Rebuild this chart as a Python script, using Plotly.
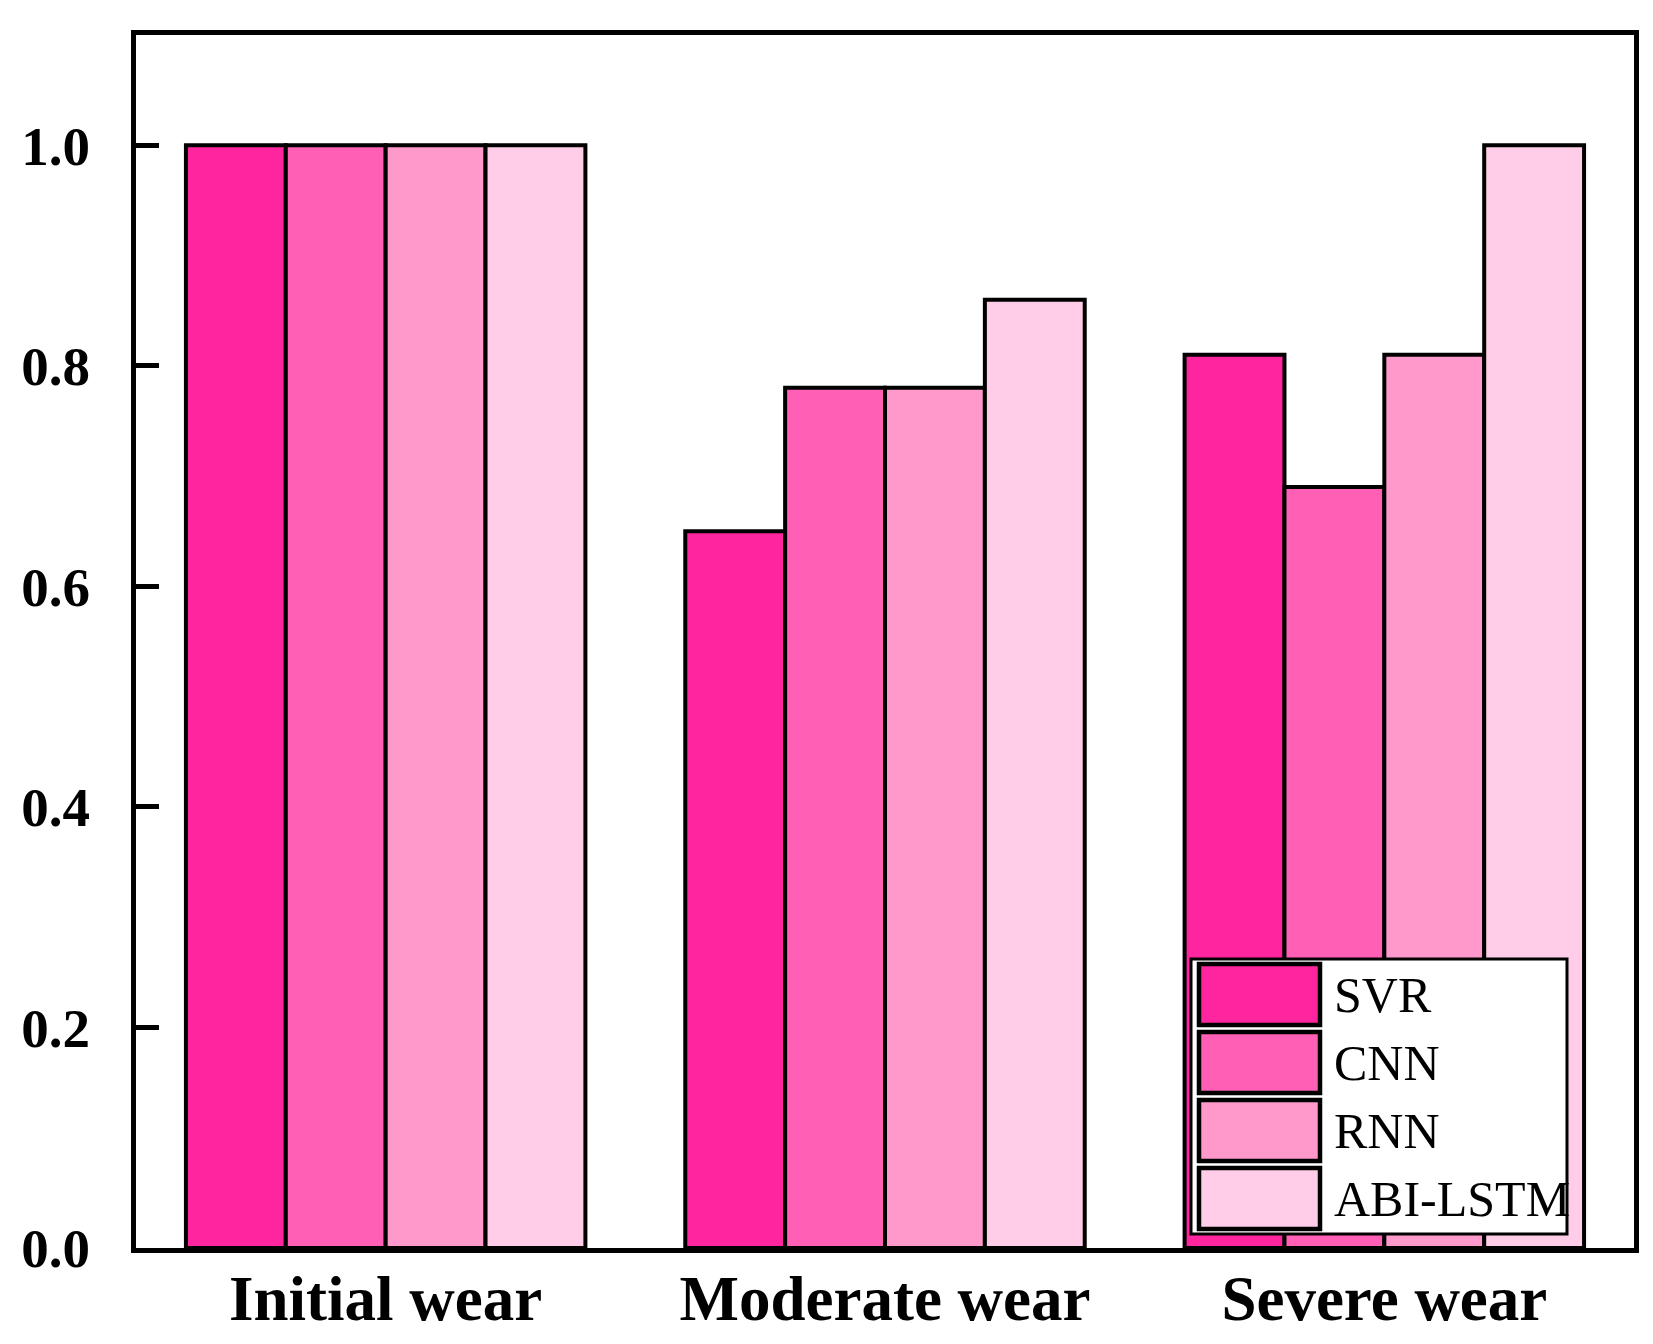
import plotly.graph_objects as go

categories = ["Initial wear", "Moderate wear", "Severe wear"]
series_names = ["SVR", "CNN", "RNN", "ABI-LSTM"]
svr = [1.0, 0.65, 0.81]
cnn = [1.0, 0.78, 0.69]
rnn = [1.0, 0.78, 0.81]
abi_lstm = [1.0, 0.86, 1.0]
series_values = [svr, cnn, rnn, abi_lstm]
colors = ["#FF259F", "#FF5FB4", "#FF99CC", "#FFCDE7"]
y_ticks = [0.0, 0.2, 0.4, 0.6, 0.8, 1.0]
y_tick_labels = ["0.0", "0.2", "0.4", "0.6", "0.8", "1.0"]

W, H = 1653, 1344
ML, MR, MT, MB = 128, 27, 27, 104
PW, PH = W - ML - MR, H - MT - MB
FONT = "Liberation Serif"

fig = go.Figure()
for name, vals, col in zip(series_names, series_values, colors):
    fig.add_trace(go.Bar(
        x=categories, y=vals, name=name,
        marker=dict(color=col, line=dict(color="black", width=4)),
        showlegend=False,
    ))

def px_x(p):
    return (p - ML) / PW

def px_y(p):
    return (H - MB - p) / PH

shapes = []
annotations = []
# legend box
shapes.append(dict(type="rect", xref="paper", yref="paper",
                   x0=px_x(1183), x1=px_x(1559), y0=px_y(1226), y1=px_y(951),
                   line=dict(color="black", width=3), fillcolor="white", layer="above"))
tops = [956, 1024, 1092, 1160]
for name, col, t in zip(series_names, colors, tops):
    shapes.append(dict(type="rect", xref="paper", yref="paper",
                       x0=px_x(1191), x1=px_x(1312), y0=px_y(t + 61), y1=px_y(t),
                       line=dict(color="black", width=4.5), fillcolor=col, layer="above"))
    annotations.append(dict(xref="paper", yref="paper", x=px_x(1324), y=px_y(t + 31),
                            text=name, showarrow=False, xanchor="left", yanchor="middle",
                            font=dict(family=FONT, size=50, color="black")))

fig.update_layout(
    width=W, height=H,
    margin=dict(l=ML, r=MR, t=MT, b=MB),
    paper_bgcolor="white", plot_bgcolor="white",
    barmode="group", bargap=0.2, bargroupgap=0,
    shapes=shapes, annotations=annotations,
    font=dict(family=FONT, color="black"),
)
fig.update_xaxes(
    automargin=False,
    showline=True, linecolor="black", linewidth=5, mirror=True,
    ticks="", showgrid=False, ticklabelstandoff=-9,
    tickfont=dict(family=FONT, size=63, color="black", weight="bold"),
)
fig.update_yaxes(
    automargin=False,
    range=[0, 1.1], tickvals=y_ticks, ticktext=y_tick_labels,
    showline=True, linecolor="black", linewidth=5, mirror=True,
    ticks="inside", ticklen=23, tickwidth=4.5, tickcolor="black",
    showgrid=False, zeroline=False, ticklabelstandoff=30,
    tickfont=dict(family=FONT, size=55, color="black", weight="bold"),
)

fig.write_html("out.html")
